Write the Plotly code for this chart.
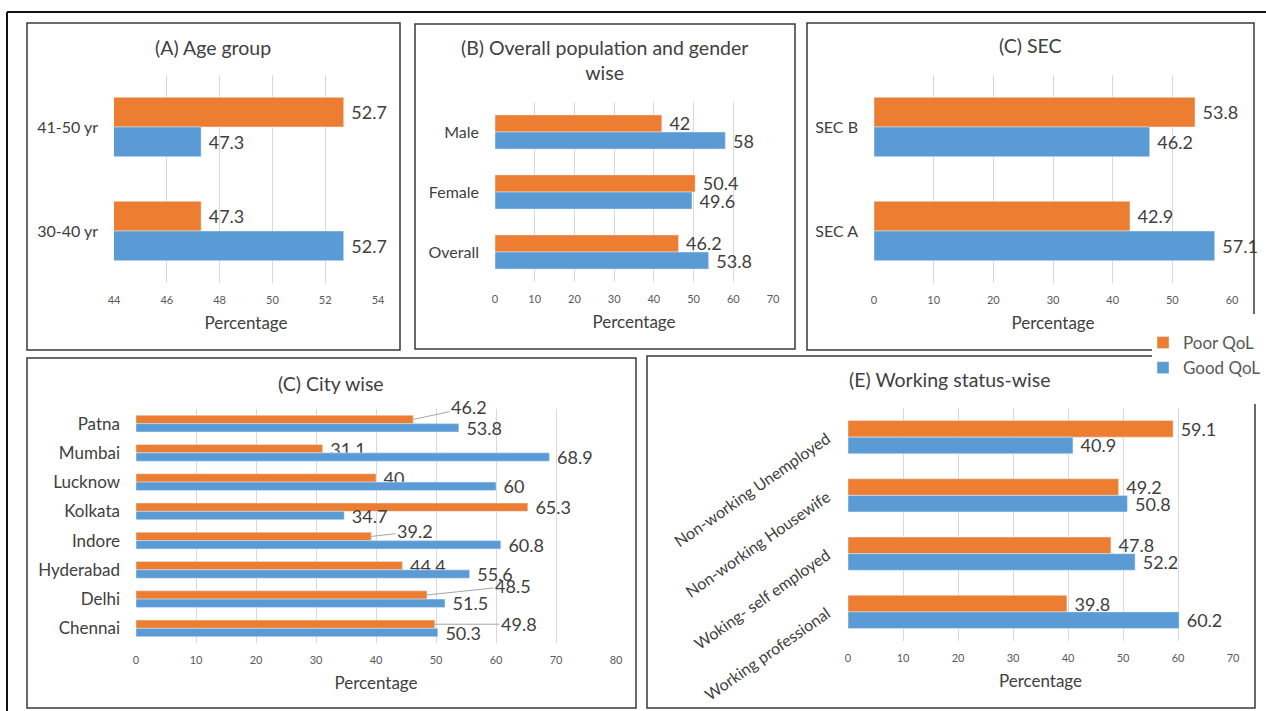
import plotly.graph_objects as go

W, H = 1266, 711
POOR_C = "#ED7D31"
GOOD_C = "#5B9BD5"
FONT = "Lato"
TXT = "#404040"
GRID = "#D9D9D9"
NBSP = "\u00a0"  # small gap between bar end and its value label
LABEL_FS = 18

# ---------------- data ----------------
age_cats = ["41-50 yr", "30-40 yr"]
age_poor = [52.7, 47.3]
age_good = [47.3, 52.7]

gender_cats = ["Male", "Female", "Overall"]
gender_poor = [42, 50.4, 46.2]
gender_good = [58, 49.6, 53.8]

sec_cats = ["SEC B", "SEC A"]
sec_poor = [53.8, 42.9]
sec_good = [46.2, 57.1]

city_cats = ["Patna", "Mumbai", "Lucknow", "Kolkata", "Indore", "Hyderabad", "Delhi", "Chennai"]
city_poor = [46.2, 31.1, 40, 65.3, 39.2, 44.4, 48.5, 49.8]
city_good = [53.8, 68.9, 60, 34.7, 60.8, 55.6, 51.5, 50.3]

work_cats = ["Non-working Unemployed", "Non-working Housewife", "Woking- self employed", "Working professional"]
work_poor = [59.1, 49.2, 47.8, 39.8]
work_good = [40.9, 50.8, 52.2, 60.2]

titles = ["(A) Age group", "(B) Overall population and gender<br>wise", "(C) SEC", "(C) City wise",
          "(E) Working status-wise"]

# ---------------- layout helpers (pixel -> paper) ----------------
def px(x):
    return x / W


def py(y):
    return 1 - y / H


BARGAP = 0.43
panels = [
    dict(cats=age_cats, poor=age_poor, good=age_good, xd=(114, 378), yd=(75, 283), rng=[44, 54], dt=2,
         ang=0, yfs=16, frame=(27, 23, 400, 350), tpos=(213, 47)),
    dict(cats=gender_cats, poor=gender_poor, good=gender_good, xd=(495, 773), yd=(102, 282), rng=[0, 70], dt=10,
         ang=0, yfs=16, frame=(415, 24, 795, 349), tpos=(604, 60)),
    dict(cats=sec_cats, poor=sec_poor, good=sec_good, xd=(874, 1232), yd=(75, 283), rng=[0, 60], dt=10,
         ang=0, yfs=16, frame=(807, 23, 1254, 350), tpos=(1030, 46)),
    dict(cats=city_cats, poor=city_poor, good=city_good, xd=(136, 616), yd=(409, 643), rng=[0, 80], dt=10,
         ang=0, yfs=17, frame=(27, 358, 636, 708), tpos=(331, 383)),
    dict(cats=work_cats, poor=work_poor, good=work_good, xd=(848, 1233), yd=(408, 641), rng=[0, 70], dt=10,
         ang=-35, yfs=16, frame=(647, 356, 1255, 708), tpos=(950, 380)),
]

# labels drawn with leader lines in the city panel (pixel offsets of the label)
LEADER = {"Patna": (56, -12), "Indore": (44, -5), "Delhi": (86, -9), "Chennai": (84, 0)}

fig = go.Figure()
annotations = []
shapes = []

for i, p in enumerate(panels):
    n = "" if i == 0 else str(i + 1)
    xa, ya = "x" + n, "y" + n
    leader_idx = [k for k, c in enumerate(p["cats"]) if i == 3 and c in LEADER]
    poor_text = ["" if k in leader_idx else NBSP + f"{v:g}" for k, v in enumerate(p["poor"])]
    good_text = [NBSP + f"{v:g}" for v in p["good"]]
    for name, vals, txt, col in [("Poor QoL", p["poor"], poor_text, POOR_C),
                                 ("Good QoL", p["good"], good_text, GOOD_C)]:
        fig.add_trace(go.Bar(
            x=vals, y=p["cats"], orientation="h", name=name, marker_color=col,
            text=txt, textposition="outside", cliponaxis=False, constraintext="none",
            textfont=dict(family=FONT, size=LABEL_FS, color=TXT),
            xaxis=xa, yaxis=ya, legendgroup=name, showlegend=(i == 0), hoverinfo="x+y",
        ))
    axkey = "xaxis" + n
    aykey = "yaxis" + n
    fig.layout[axkey] = dict(
        domain=[px(p["xd"][0]), px(p["xd"][1])], anchor=ya, range=p["rng"], dtick=p["dt"], tick0=0,
        showgrid=True, gridcolor=GRID, gridwidth=1, zeroline=False, showline=False,
        ticks="outside", ticklen=7, tickcolor="rgba(0,0,0,0)", automargin=False,
        tickfont=dict(family=FONT, size=11, color="#595959"),
        title=dict(text="Percentage", font=dict(family=FONT, size=17, color=TXT), standoff=11),
        fixedrange=True,
    )
    fig.layout[aykey] = dict(
        domain=[py(p["yd"][1]), py(p["yd"][0])], anchor=xa, type="category", autorange="reversed",
        showgrid=False, zeroline=False, showline=False, ticks="", automargin=False,
        tickangle=p["ang"], ticklabelstandoff=(20 if p["ang"] else 15),
        tickfont=dict(family=FONT, size=p["yfs"], color=TXT), fixedrange=True,
    )
    # panel frame
    x0, y0, x1, y1 = p["frame"]
    shapes.append(dict(type="rect", xref="paper", yref="paper", x0=px(x0), x1=px(x1), y0=py(y1), y1=py(y0),
                       line=dict(color="#3A3A3A", width=1.5), layer="above"))
    # panel title
    annotations.append(dict(text=titles[i], xref="paper", yref="paper", x=px(p["tpos"][0]), y=py(p["tpos"][1]),
                            xanchor="center", yanchor="middle", showarrow=False,
                            font=dict(family=FONT, size=19.5, color=TXT)))
    # leader-line labels
    off = (1 - BARGAP) / 4
    for k in leader_idx:
        axp, ayp = LEADER[p["cats"][k]]
        annotations.append(dict(
            text=f"{p['poor'][k]:g}", x=p["poor"][k], y=k - off, xref=xa, yref=ya,
            showarrow=True, arrowhead=0, arrowwidth=1, arrowcolor="#A6A6A6", ax=axp, ay=ayp,
            font=dict(family=FONT, size=LABEL_FS, color=TXT), standoff=0,
        ))

# outer frame (top and left edges)
shapes.append(dict(type="line", xref="paper", yref="paper", x0=px(7), x1=1, y0=py(12), y1=py(12),
                   line=dict(color="#111111", width=2), layer="above"))
shapes.append(dict(type="line", xref="paper", yref="paper", x0=px(7), x1=px(7), y0=py(12), y1=0,
                   line=dict(color="#111111", width=2), layer="above"))
# white box behind the legend
shapes.append(dict(type="rect", xref="paper", yref="paper", x0=px(1152), x1=1, y0=py(404), y1=py(314),
                   fillcolor="white", line=dict(width=0), layer="above"))

fig.update_layout(
    width=W, height=H, margin=dict(l=0, r=0, t=0, b=0, autoexpand=False),
    paper_bgcolor="white", plot_bgcolor="white",
    barmode="group", bargap=BARGAP, bargroupgap=0,
    font=dict(family=FONT, color=TXT),
    shapes=shapes, annotations=annotations,
    showlegend=True,
    legend=dict(x=px(1143), y=py(325), xanchor="left", yanchor="top", bgcolor="rgba(0,0,0,0)",
                font=dict(family=FONT, size=17, color="#595959"), itemwidth=30, tracegroupgap=0),
)

fig.write_html("out.html")
